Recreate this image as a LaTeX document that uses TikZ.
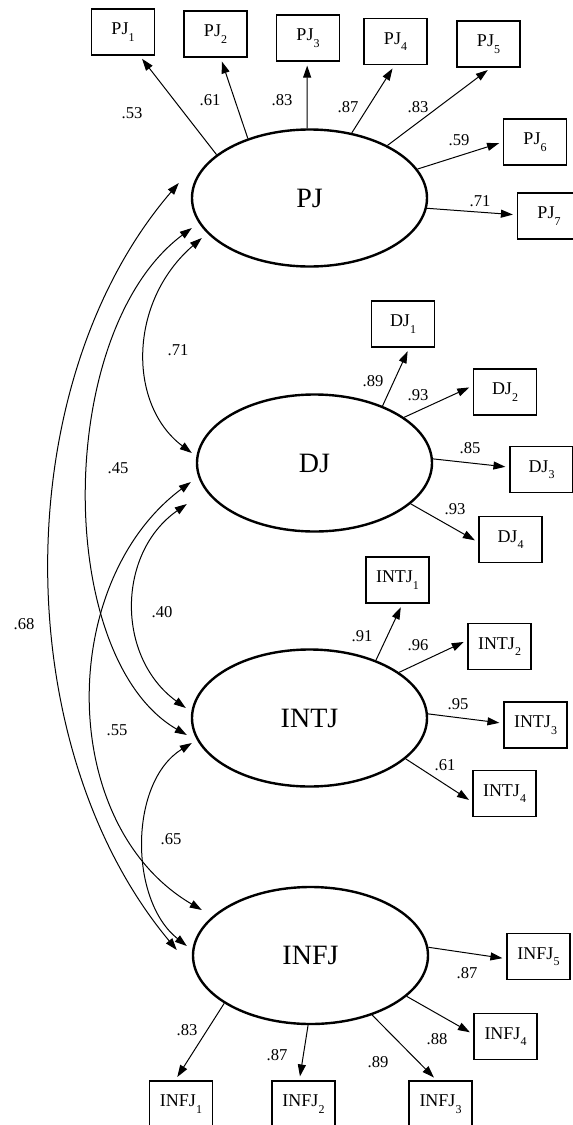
\documentclass[tikz,border=0pt]{standalone}
\usepackage{fontspec}
\setmainfont{Liberation Serif}
\usetikzlibrary{arrows.meta,shapes.geometric}
\newcommand{\idx}[1]{\raisebox{-3.3pt}{\fontsize{6}{6}\selectfont #1}}

\begin{document}
\begin{tikzpicture}[x=0.5pt, y=-0.5pt, >={Triangle[length=6pt,width=4pt]},
  lat/.style={draw, ellipse, line width=1.2pt, minimum width=117.5pt, minimum height=68.5pt, inner sep=0pt, font=\fontsize{14}{16}\selectfont},
  ind/.style={draw, line width=0.6pt, minimum width=31.5pt, minimum height=23pt, inner sep=0pt, font=\fontsize{9}{11}\selectfont},
  coef/.style={inner sep=0pt, font=\fontsize{8.3}{10}\selectfont},
  load/.style={->, line width=0.5pt, shorten >=2pt},
  cov/.style={<->, line width=0.5pt}]
\useasboundingbox (0,0) rectangle (573,1125);
% latent factors
\node[lat] (PJ)   at (309.5, 198)   {PJ};
\node[lat] (DJ)   at (314.5, 463)   {DJ};
\node[lat] (INTJ) at (309.5, 718)   {INTJ};
\node[lat] (INFJ) at (310.5, 955.5) {INFJ};
% indicators
\node[ind] (PJ1) at (123, 32)     {PJ\idx{1}};
\node[ind] (PJ2) at (215.5, 34)   {PJ\idx{2}};
\node[ind] (PJ3) at (308, 38)     {PJ\idx{3}};
\node[ind] (PJ4) at (395.5, 41.5) {PJ\idx{4}};
\node[ind] (PJ5) at (488.5, 44)   {PJ\idx{5}};
\node[ind] (PJ6) at (535, 142)    {PJ\idx{6}};
\node[ind] (PJ7) at (549, 216)    {PJ\idx{7}};
\node[ind] (DJ1) at (403, 324)    {DJ\idx{1}};
\node[ind] (DJ2) at (505, 392)    {DJ\idx{2}};
\node[ind] (DJ3) at (541.5, 469.5) {DJ\idx{3}};
\node[ind] (DJ4) at (510.5, 539.5) {DJ\idx{4}};
\node[ind] (INTJ1) at (397.5, 580) {INTJ\idx{1}};
\node[ind] (INTJ2) at (499.5, 646.5) {INTJ\idx{2}};
\node[ind] (INTJ3) at (535.5, 725) {INTJ\idx{3}};
\node[ind] (INTJ4) at (504.5, 793.5) {INTJ\idx{4}};
\node[ind] (INFJ1) at (181, 1104)   {INFJ\idx{1}};
\node[ind] (INFJ2) at (303.5, 1104) {INFJ\idx{2}};
\node[ind] (INFJ3) at (440.5, 1104) {INFJ\idx{3}};
\node[ind] (INFJ4) at (505.5, 1036.5) {INFJ\idx{4}};
\node[ind] (INFJ5) at (538.5, 956.5) {INFJ\idx{5}};
% loadings
\draw[load] (PJ.155) -- (PJ1.-55);
\draw[load] (PJ.136) -- (PJ2.-78);
\draw[load] (PJ.92)  -- (PJ3.-92);
\draw[load] (PJ.57)  -- (PJ4.-92);
\draw[load] (PJ.34)  -- (PJ5.-84);
\draw[load] (PJ.15)  -- (PJ6.west);
\draw[load] (PJ.-5)  -- (PJ7.178);
\draw[load] (DJ.40)  -- (DJ1.-75);
\draw[load] (DJ.27)  -- (DJ2.169);
\draw[load] (DJ.2)   -- (DJ3.176);
\draw[load] (DJ.-23) -- (DJ4.-175);
\draw[load] (INTJ.41)  -- (INTJ1.-78);
\draw[load] (INTJ.27)  -- (INTJ2.169);
\draw[load] (INTJ.2)   -- (INTJ3.177);
\draw[load] (INTJ.-23) -- (INTJ4.-165);
\draw[load] (INFJ.-151) -- (INFJ1.104);
\draw[load] (INFJ.-92)  -- (INFJ2.100);
\draw[load] (INFJ.-44)  -- (INFJ3.99);
\draw[load] (INFJ.-23)  -- (INFJ4.176);
\draw[load] (INFJ.4)    -- (INFJ5.-176);
\node[coef] (lPJ1) at (132, 113) {.53};
\node[coef] (lPJ2) at (210, 100) {.61};
\node[coef] (lPJ3) at (282, 100) {.83};
\node[coef] (lPJ4) at (348, 107) {.87};
\node[coef] (lPJ5) at (418, 107) {.83};
\node[coef] (lPJ6) at (459, 140) {.59};
\node[coef] (lPJ7) at (480, 201) {.71};
\node[coef] (lDJ1) at (373, 381) {.89};
\node[coef] (lDJ2) at (418, 395) {.93};
\node[coef] (lDJ3) at (470, 448) {.85};
\node[coef] (lDJ4) at (455, 509) {.93};
\node[coef] (lINTJ1) at (362, 636) {.91};
\node[coef] (lINTJ2) at (418, 645) {.96};
\node[coef] (lINTJ3) at (458, 704) {.95};
\node[coef] (lINTJ4) at (445, 765) {.61};
\node[coef] (lINFJ1) at (187, 1030) {.83};
\node[coef] (lINFJ2) at (277, 1055) {.87};
\node[coef] (lINFJ3) at (378, 1062) {.89};
\node[coef] (lINFJ4) at (437, 1039) {.88};
\node[coef] (lINFJ5) at (467, 973)  {.87};
% correlations
\draw[cov] ([shift={(-12,-15)}]PJ.west) .. controls +(-172,200) and +(-170,-204) .. ([shift={(-15,-5.5)}]INFJ.west);
\draw[cov] ([shift={(1,30)}]PJ.west) .. controls +(-138,103) and +(-133,-77) .. ([shift={(-4,17)}]INTJ.west);
\draw[cov] ([shift={(11,40)}]PJ.west) .. controls +(-74,64) and +(-64,-48) .. ([shift={(-4,-10)}]DJ.west);
\draw[cov] ([shift={(-9,41)}]DJ.west) .. controls +(-70,49) and +(-70,-51) .. ([shift={(-5,-10)}]INTJ.west);
\draw[cov] ([shift={(-5,19)}]DJ.west) .. controls +(-134,100) and +(-145,-85) .. ([shift={(10,-45.5)}]INFJ.west);
\draw[cov] ([shift={(1,25)}]INTJ.west) .. controls +(-63,39) and +(-58,-46) .. ([shift={(-5,-9.5)}]INFJ.west);
\node[coef] (rPJDJ)     at (178, 350) {.71};
\node[coef] (rPJINTJ)   at (118, 468) {.45};
\node[coef] (rPJINFJ)   at (24, 624)  {.68};
\node[coef] (rDJINTJ)   at (162, 612) {.40};
\node[coef] (rDJINFJ)   at (117, 730) {.55};
\node[coef] (rINTJINFJ) at (171, 839) {.65};
\end{tikzpicture}
\end{document}
